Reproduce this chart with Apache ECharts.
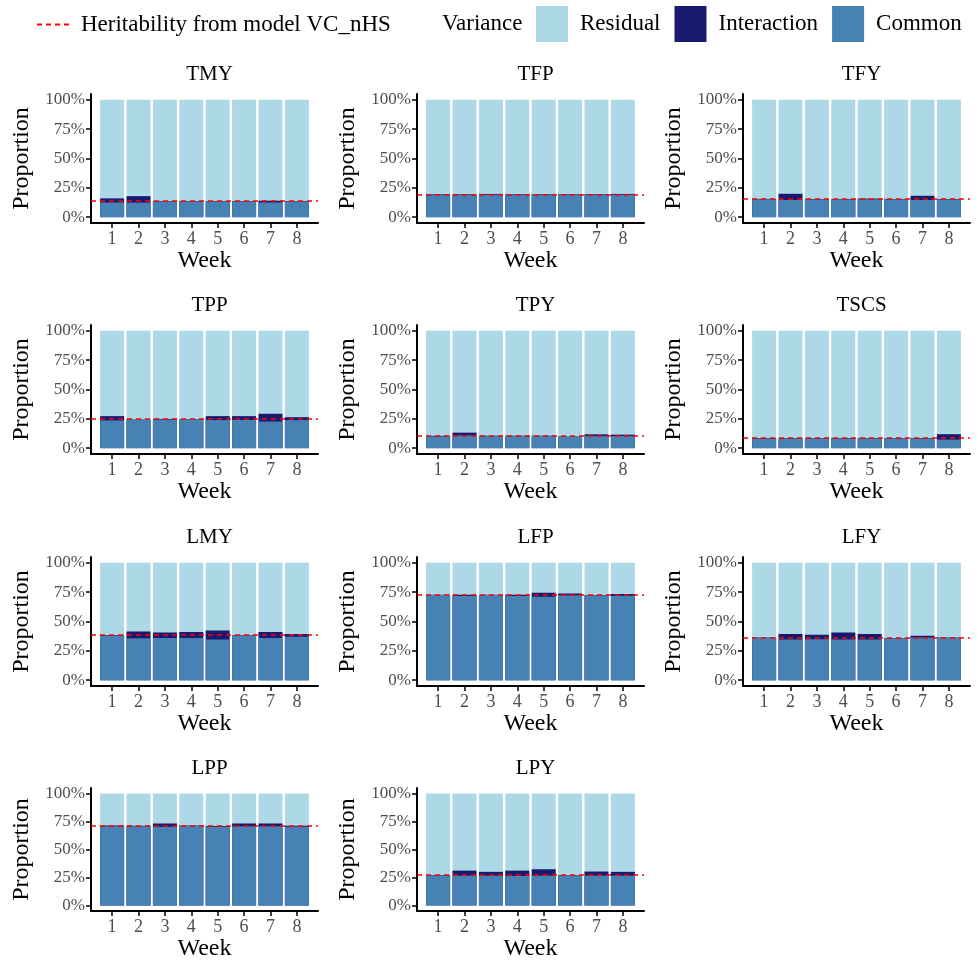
<!DOCTYPE html>
<html>
<head>
<meta charset="utf-8">
<script src="https://cdn.jsdelivr.net/npm/echarts@6/dist/echarts.min.js"></script>
<style>
  html, body { margin: 0; padding: 0; background: #fff; }
  #chart { width: 979px; height: 962px; }
</style>
</head>
<body>
<div id="chart"></div>
<script>
// trait panels, in reading order
var traits = ['TMY', 'TFP', 'TFY', 'TPP', 'TPY', 'TSCS', 'LMY', 'LFP', 'LFY', 'LPP', 'LPY'];
var weeks = [1, 2, 3, 4, 5, 6, 7, 8];
var yTicks = [0, 25, 50, 75, 100];

// heritability from model VC_nHS (%)
var heritability = [13.8, 19.5, 15.5, 25.0, 10.6, 8.7, 38.5, 73.0, 36.3, 71.5, 27.7];

// proportion of variance (%) per week
var common = [
    [12.5, 12.4, 13.3, 13.3, 13.3, 13.3, 12.5, 13.3],
    [19.3, 19.3, 19.2, 19.3, 19.3, 19.3, 19.3, 19.2],
    [15.3, 14.6, 15.2, 15.2, 15.2, 15.2, 14.6, 15.2],
    [23.6, 24.1, 24.4, 24.4, 23.9, 24.0, 22.7, 23.9],
    [10.0, 10.9, 10.3, 10.3, 10.3, 9.7, 10.3, 10.3],
    [8.2, 8.2, 8.1, 8.2, 8.2, 8.1, 8.2, 7.3],
    [37.7, 35.7, 36.0, 36.0, 34.6, 38.0, 36.0, 36.9],
    [72.5, 71.8, 72.5, 71.8, 71.0, 72.3, 72.3, 72.0],
    [36.2, 34.6, 34.9, 34.6, 34.6, 35.5, 36.4, 36.0],
    [70.7, 70.7, 70.4, 71.0, 70.4, 70.7, 70.7, 70.4],
    [26.9, 26.6, 26.6, 26.3, 26.6, 26.6, 26.6, 26.6]
];
var interaction = [
    [3.5, 5.5, 0.3, 0.3, 0.3, 0.3, 1.5, 0.3],
    [0.3, 0.3, 0.6, 0.3, 0.3, 0.3, 0.3, 0.6],
    [0.3, 5.3, 0.3, 0.3, 0.6, 0.3, 3.6, 0.3],
    [3.7, 0.3, 0.5, 0.2, 3.4, 3.3, 6.6, 2.5],
    [0.5, 2.3, 0.3, 0.3, 0.3, 0.2, 1.5, 1.2],
    [0.3, 0.3, 0.3, 0.3, 0.3, 0.3, 0.3, 4.6],
    [0.5, 5.7, 4.6, 5.1, 7.7, 0.2, 5.1, 2.5],
    [0.3, 1.0, 0.3, 1.0, 3.5, 1.5, 0.3, 1.5],
    [0.2, 4.8, 3.7, 6.0, 4.8, 0.2, 1.4, 0.3],
    [0.8, 0.6, 2.9, 0.4, 0.6, 2.6, 2.6, 0.8],
    [0.3, 4.5, 3.4, 4.8, 5.7, 0.3, 3.7, 3.4]
];

function CreateVarianceChart() {
    var colCommon = '#4682B4';
    var colInteraction = '#191970';
    var colResidual = '#ADD8E6';
    var colH = '#FF0000';
    var hName = 'Heritability from model VC_nHS';
    var font = '"Liberation Serif", "DejaVu Serif", serif';

    var colLeft = [91, 417, 743];
    var rowTop = [94, 325, 557, 788];
    var gridW = 227;
    var gridH = 129;

    var myChart = echarts.init(document.getElementById('chart'), null, { renderer: 'canvas' });

    var grids = [], xAxes = [], yAxes = [], titles = [], series = [];

    titles.push({
        text: 'Variance',
        left: 437,
        top: 7,
        textStyle: { fontFamily: font, fontSize: 23, fontWeight: 'normal', color: '#000' }
    });

    for (var i = 0; i < traits.length; i++) {
        var gLeft = colLeft[i % 3];
        var gTop = rowTop[Math.floor(i / 3)];

        grids.push({ left: gLeft, top: gTop, width: gridW, height: gridH });

        titles.push({
            text: traits[i],
            left: gLeft + gridW / 2,
            top: gTop - 35,
            textAlign: 'center',
            textStyle: { fontFamily: font, fontSize: 21, fontWeight: 'normal', color: '#000' }
        });

        xAxes.push({
            gridIndex: i,
            type: 'value',
            min: 0.2,
            max: 8.8,
            splitLine: { show: false },
            axisLine: { show: true, onZero: false, lineStyle: { color: '#000', width: 2 } },
            axisTick: { show: true, customValues: weeks, length: 5, lineStyle: { color: '#000', width: 1.5 } },
            axisLabel: { customValues: weeks, color: '#4D4D4D', fontFamily: font, fontSize: 18, margin: 7 },
            name: 'Week',
            nameLocation: 'middle',
            nameGap: 26,
            nameTextStyle: { fontFamily: font, fontSize: 24, color: '#000' }
        });

        yAxes.push({
            gridIndex: i,
            type: 'value',
            min: -5,
            max: 105,
            splitLine: { show: false },
            axisLine: { show: true, onZero: false, lineStyle: { color: '#000', width: 2 } },
            axisTick: { show: true, customValues: yTicks, length: 5, lineStyle: { color: '#000', width: 1.5 } },
            axisLabel: {
                customValues: yTicks,
                formatter: '{value}%',
                color: '#4D4D4D',
                fontFamily: font,
                fontSize: 17,
                margin: 6
            },
            name: 'Proportion',
            nameLocation: 'middle',
            nameGap: 57,
            nameTextStyle: { fontFamily: font, fontSize: 24, color: '#000' }
        });

        // bars are layered from 0: full total, then common + interaction, then common
        var rData = [], iData = [], cData = [];
        for (var w = 0; w < weeks.length; w++) {
            var c = common[i][w];
            var it = interaction[i][w];
            var res = 100 - c - it;
            rData.push([weeks[w], c + it + res]);
            iData.push([weeks[w], c + it]);
            cData.push([weeks[w], c]);
        }

        series.push({
            name: 'Residual', type: 'bar', barGap: '-100%',
            xAxisIndex: i, yAxisIndex: i, barWidth: 24,
            itemStyle: { color: colResidual }, silent: true, data: rData
        });
        series.push({
            name: 'Interaction', type: 'bar', barGap: '-100%',
            xAxisIndex: i, yAxisIndex: i, barWidth: 24,
            itemStyle: { color: colInteraction }, silent: true, data: iData
        });
        series.push({
            name: 'Common', type: 'bar', barGap: '-100%',
            xAxisIndex: i, yAxisIndex: i, barWidth: 24,
            itemStyle: { color: colCommon }, silent: true, data: cData
        });
        series.push({
            name: hName, type: 'line',
            xAxisIndex: i, yAxisIndex: i, z: 5,
            symbol: 'none', color: colH,
            lineStyle: { color: colH, type: [5, 4], width: 1.5 },
            data: [],
            markLine: {
                silent: true,
                symbol: 'none',
                label: { show: false },
                lineStyle: { color: colH, type: [5, 4], width: 1.5, opacity: 1 },
                data: [{ yAxis: heritability[i] }]
            }
        });
    }

    var option = {
        animation: false,
        title: titles,
        legend: [
            {
                data: [hName],
                left: 31,
                top: 8,
                itemWidth: 35,
                itemHeight: 14,
                itemStyle: { opacity: 0 },
                textStyle: { fontFamily: font, fontSize: 23, color: '#000', padding: [0, 0, 0, 4] }
            },
            {
                data: ['Residual', 'Interaction', 'Common'],
                left: 531,
                top: 1,
                icon: 'rect',
                itemWidth: 32,
                itemHeight: 36,
                itemGap: 14,
                textStyle: { fontFamily: font, fontSize: 23, color: '#000', padding: [0, 0, 0, 7] }
            }
        ],
        grid: grids,
        xAxis: xAxes,
        yAxis: yAxes,
        series: series
    };

    myChart.setOption(option, true);
}

CreateVarianceChart();
</script>
</body>
</html>
